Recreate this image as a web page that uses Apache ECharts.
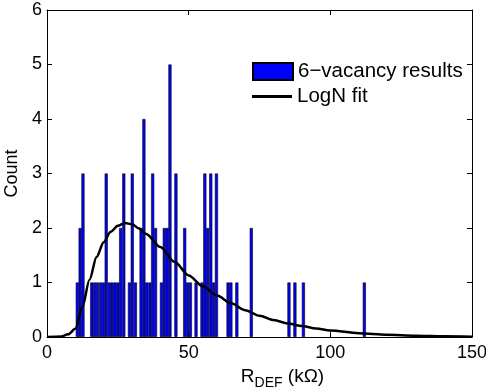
<!DOCTYPE html>
<html>
<head>
<meta charset="utf-8">
<script src="https://cdn.jsdelivr.net/npm/echarts@6/dist/echarts.min.js"></script>
<style>
  html, body { margin: 0; padding: 0; background: #fff; }
  #chart { width: 486px; height: 392px; }
</style>
</head>
<body>
<div id="chart"></div>
<script>
// histogram bins (centre in kOhm, count)
const binCenters = [10.7, 11.7, 12.7, 15.8, 16.8, 17.8, 18.9, 19.9, 20.9, 22.0, 23.0, 24.0, 25.0,
  26.0, 27.1, 29.1, 30.1, 31.2, 33.2, 34.2, 35.2, 36.3, 37.3, 38.3, 40.4, 41.4, 42.4, 43.4,
  45.5, 48.6, 49.6, 50.6, 52.6, 54.7, 55.7, 56.7, 57.8, 58.8, 59.8, 63.9, 64.9, 67.0, 72.1,
  85.4, 87.5, 90.5, 112.0];
const binCounts = [1, 2, 3, 1, 1, 1, 1, 1, 3, 1, 1, 1, 1,
  2, 3, 1, 3, 1, 2, 4, 1, 1, 3, 2, 1, 2, 2, 5,
  3, 2, 1, 1, 1, 1, 3, 2, 3, 1, 3, 1, 1, 1, 2,
  1, 1, 1, 1];

// LogN fit curve
const fitX = [0, 5, 7.5, 10, 12.5, 15, 17.5, 20, 22.5, 25, 27.5, 30, 32.5, 35, 40, 45, 50, 55,
  60, 65, 70, 75, 80, 85, 90, 95, 100, 110, 120, 130, 140, 150];
const fitY = [0, 0.01, 0.05, 0.15, 0.55, 1.05, 1.47, 1.74, 1.93, 2.04, 2.09, 2.07, 1.99, 1.89,
  1.65, 1.38, 1.13, 0.93, 0.76, 0.62, 0.49, 0.39, 0.31, 0.25, 0.2, 0.155, 0.12, 0.07, 0.04,
  0.022, 0.012, 0.006];

const xTicks = [0, 50, 100, 150];
const yTicks = [0, 1, 2, 3, 4, 5, 6];

const font = "'Liberation Sans', Arial, sans-serif";

const chart = echarts.init(document.getElementById("chart"));

function frameAxis(extra) {
  return Object.assign({
    type: "value",
    axisLine: { show: true, onZero: false, lineStyle: { color: "#000", width: 1 } },
    axisTick: { show: true, inside: true, length: 5, lineStyle: { color: "#000" } },
    splitLine: { show: false },
  }, extra);
}

chart.setOption({
  animation: false,
  grid: { left: 47, right: 14, top: 10, bottom: 55, outerBoundsMode: "none" },
  legend: [
    {
      data: ["6\u2212vacancy results"],
      left: 252,
      top: 61,
      padding: 0,
      itemWidth: 40,
      itemHeight: 17,
      icon: "rect",
      textStyle: { fontFamily: font, fontSize: 20.5, color: "#000" },
    },
    {
      data: ["LogN fit"],
      left: 252,
      top: 86,
      padding: 0,
      itemWidth: 40,
      itemHeight: 3,
      icon: "rect",
      textStyle: { fontFamily: font, fontSize: 20.5, color: "#000" },
    },
  ],
  xAxis: [
    frameAxis({
      min: xTicks[0],
      max: xTicks[xTicks.length - 1],
      interval: 50,
      axisLabel: { fontFamily: font, fontSize: 18, color: "#000", margin: 7 },
      name: "{r|R}{s|DEF}{r| (k\u03a9)}",
      nameLocation: "middle",
      nameGap: 24,
      nameTextStyle: {
        padding: [0, 0, 0, 46],
        rich: {
          r: { fontFamily: font, fontSize: 19, color: "#000" },
          s: { fontFamily: font, fontSize: 14, color: "#000", padding: [13, 0, 0, 0] },
        },
      },
    }),
    frameAxis({
      position: "top",
      min: xTicks[0],
      max: xTicks[xTicks.length - 1],
      interval: 50,
      axisLabel: { show: false },
    }),
  ],
  yAxis: [
    frameAxis({
      min: yTicks[0],
      max: yTicks[yTicks.length - 1],
      interval: 1,
      axisLabel: { fontFamily: font, fontSize: 18, color: "#000", margin: 5 },
      name: "Count",
      nameLocation: "middle",
      nameGap: 25,
      nameTextStyle: { fontFamily: font, fontSize: 18, color: "#000" },
    }),
    frameAxis({
      position: "right",
      min: yTicks[0],
      max: yTicks[yTicks.length - 1],
      interval: 1,
      axisLabel: { show: false },
    }),
  ],
  series: [
    {
      name: "6\u2212vacancy results",
      type: "bar",
      xAxisIndex: 0,
      yAxisIndex: 0,
      barWidth: 3.1,
      data: binCenters.map((c, i) => [c, binCounts[i]]),
      itemStyle: { color: "#0000ff", borderColor: "#000", borderWidth: 0.6 },
    },
    {
      name: "LogN fit",
      type: "line",
      xAxisIndex: 0,
      yAxisIndex: 0,
      symbol: "none",
      smooth: 0.3,
      smoothMonotone: "x",
      data: fitX.map((x, i) => [x, fitY[i]]),
      itemStyle: { color: "#000" },
      lineStyle: { color: "#000", width: 2.5 },
      z: 5,
    },
  ],
});
</script>
</body>
</html>
